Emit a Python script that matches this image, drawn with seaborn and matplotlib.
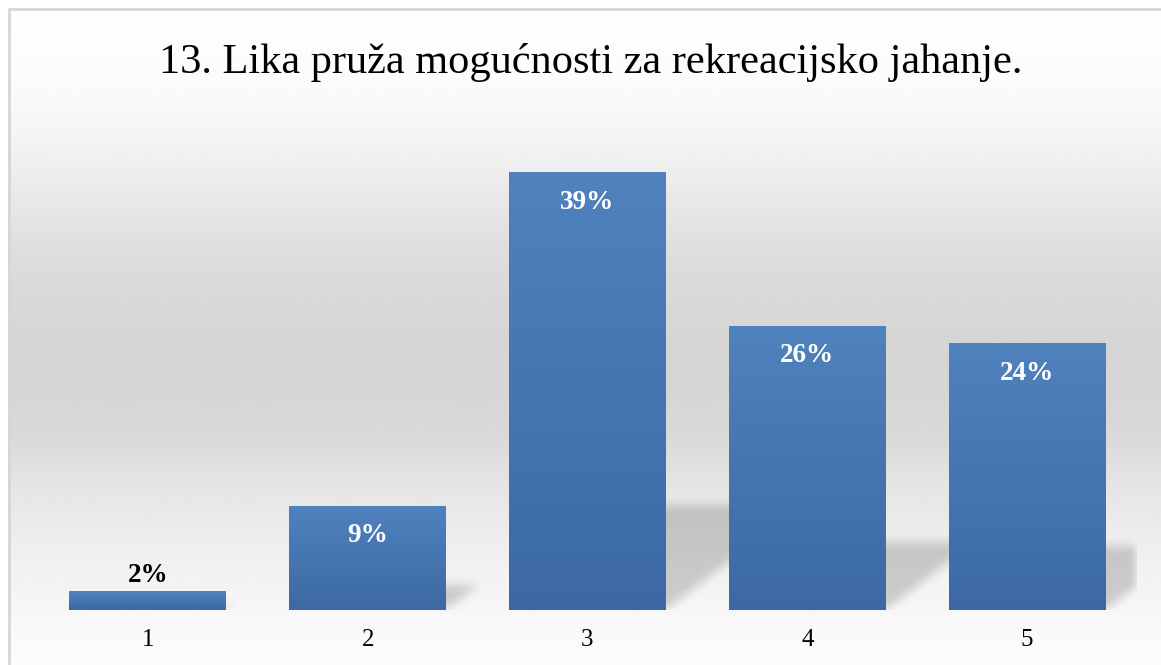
import numpy as np
import pandas as pd
import matplotlib
matplotlib.use("Agg")
import matplotlib.pyplot as plt
from matplotlib.path import Path
import seaborn as sns

# ---- data ----
categories = ["1", "2", "3", "4", "5"]
values = [1.7, 9.4, 39.4, 25.6, 24.0]
labels = ["2%", "9%", "39%", "26%", "24%"]
title = "13. Lika pruža mogućnosti za rekreacijsko jahanje."

# ---- style ----
W, H, DPI = 1161, 665, 100
SERIF = ["Liberation Serif", "DejaVu Serif"]
BAR_TOP = np.array([80, 130, 190]) / 255.0
BAR_BOT = np.array([60, 105, 163]) / 255.0

sns.set_theme(style="white")
plt.rcParams["font.family"] = SERIF

fig = plt.figure(figsize=(W / DPI, H / DPI), dpi=DPI)
fig.patch.set_facecolor("white")

# background panel with vertical gradient + frame
bg = fig.add_axes([0, 0, 1, 1], zorder=0)
bg.set_xlim(0, W)
bg.set_ylim(H, 0)
bg.axis("off")
stops_y = [8, 80, 130, 200, 260, 330, 390, 440, 480, 530, 580, 620, 665]
stops_v = [254, 251, 245, 232, 220, 214, 213, 218, 228, 236, 243, 248, 252]
yy = np.arange(8, H + 1)
gray = np.interp(yy, stops_y, stops_v) / 255.0
grad = np.repeat(gray[:, None], 2, axis=1)
bg.imshow(grad, cmap="gray", vmin=0, vmax=1, extent=[8, W + 5, H + 2, 8],
          aspect="auto", interpolation="bilinear")
bg.set_xlim(0, W)
bg.set_ylim(H, 0)
bg.plot([8.5, 8.5], [H + 2, 8.5], color="#d6d6d6", lw=2)
bg.plot([8.5, W + 5], [8.5, 8.5], color="#d6d6d6", lw=2)

# main plot axes
left_px, right_px, base_px, top_px = 38, 1137, 610, 110
ax = fig.add_axes([left_px / W, (H - base_px) / H, (right_px - left_px) / W,
                   (base_px - top_px) / H], zorder=1)
ax.patch.set_alpha(0)

df = pd.DataFrame({"cat": categories, "val": values})
sns.barplot(data=df, x="cat", y="val", color=BAR_TOP, width=0.714,
            saturation=1, ax=ax, zorder=3, linewidth=0, edgecolor="none")
ax.set_xlim(-0.5, len(categories) - 0.5)
ax.set_ylim(0, 45)
for s in ax.spines.values():
    s.set_visible(False)
ax.set_yticks([])
ax.set_xlabel("")
ax.set_ylabel("")
ax.tick_params(axis="x", length=0, pad=14, labelsize=18, labelcolor="black")
for t in ax.get_xticklabels():
    t.set_fontfamily(SERIF)

# px per data unit
ppx = (right_px - left_px) / len(categories)
ppy = (base_px - top_px) / 45.0

# soft cast shadows derived from the bars
nx, ny = right_px - left_px, base_px - top_px
xs = -0.5 + (np.arange(nx) + 0.5) / ppx
ys = (np.arange(ny) + 0.5) / ppy
X, Y = np.meshgrid(xs, ys)
pts = np.column_stack([X.ravel(), Y.ravel()])
mask = np.zeros(X.size, dtype=bool)
bars = list(ax.patches)
for p in bars:
    x0, w, h = p.get_x(), p.get_width(), p.get_height()
    hs = 0.24 * h
    dx = 1.3 * hs * ppy / ppx
    poly = Path([(x0, 0), (x0 + w, 0), (x0 + w + dx, hs), (x0 + dx, hs), (x0, 0)])
    mask |= poly.contains_points(pts)
mask = mask.reshape(X.shape).astype(float)


def box_blur(a, r, axis):
    k = np.ones(2 * r + 1) / (2 * r + 1)
    return np.apply_along_axis(lambda m: np.convolve(m, k, mode="same"), axis, a)


sh = mask
for _ in range(2):
    sh = box_blur(sh, 5, 0)
    sh = box_blur(sh, 5, 1)
rgba = np.zeros(sh.shape + (4,))
rgba[..., 3] = 0.17 * sh
ax.imshow(rgba, extent=[-0.5, len(categories) - 0.5, 0, 45], origin="lower",
          aspect="auto", zorder=2, interpolation="bilinear")
ax.set_xlim(-0.5, len(categories) - 0.5)
ax.set_ylim(0, 45)

# gradient fill on bars + labels
g = np.linspace(0, 1, 256)[:, None]
for p, lab in zip(bars, labels):
    x0, w, h = p.get_x(), p.get_width(), p.get_height()
    cols = BAR_BOT[None, :] * (1 - g) + BAR_TOP[None, :] * g
    img = np.repeat(cols[:, None, :], 2, axis=1)
    im = ax.imshow(img, extent=[x0, x0 + w, 0, h], origin="lower",
                   aspect="auto", zorder=4, interpolation="bilinear")
    im.set_clip_path(p)
    cx = x0 + w / 2
    if h * ppy < 40:
        ax.text(cx, h + 16 / ppy, lab, ha="center", va="center", fontsize=19.5,
                fontweight="bold", color="black", zorder=5, family=SERIF)
    else:
        ax.text(cx, h - 30 / ppy, lab, ha="center", va="center", fontsize=19.5,
                fontweight="bold", color="white", zorder=5, family=SERIF)

fig.text(591 / W, 1 - 63 / H, title, ha="center", va="center", fontsize=30.5,
         color="black", family=SERIF)

fig.savefig("out.png", dpi=DPI)
